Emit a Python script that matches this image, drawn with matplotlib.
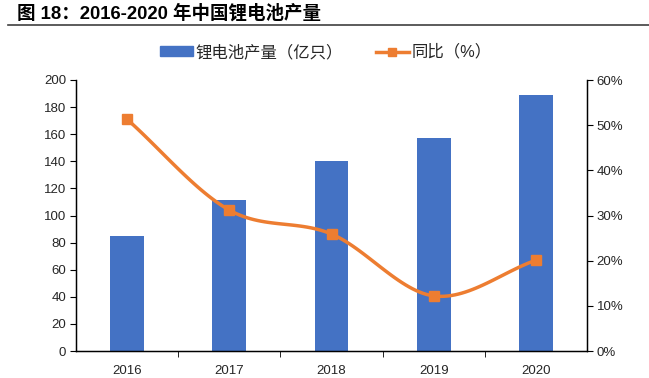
import numpy as np
import matplotlib
matplotlib.use("Agg")
import matplotlib.pyplot as plt
from matplotlib.lines import Line2D
from matplotlib.patches import Patch

plt.rcParams['font.family'] = ['Liberation Sans', 'Noto Sans CJK SC', 'DejaVu Sans']

years = ['2016', '2017', '2018', '2019', '2020']
output = [85.1, 111.4, 140.0, 157.4, 188.7]          # 亿只
yoy = [51.3, 31.2, 25.9, 12.2, 20.1]                  # %

bar_color = '#4472C4'
line_color = '#ED7D31'
text_color = '#262626'

fig = plt.figure(figsize=(6.49, 3.78), dpi=100)
ax = fig.add_axes([76/649, 1-351/378, (587-76)/649, (351-80)/378])
x = np.arange(len(years))
ax.bar(x, output, width=0.33, color=bar_color, zorder=2)
ax.set_xlim(-0.5, len(years)-0.5)
ax.set_ylim(0, 200)
ax.set_yticks(range(0, 201, 20))
ax.set_xticks(x)
ax.set_xticklabels(years)
ax.set_xticks(np.arange(0.5, len(years)-1, 1), minor=True)
ax.tick_params(axis='x', which='major', length=0, pad=10, labelsize=9.5, colors=text_color)
ax.tick_params(axis='x', which='minor', length=4, direction='out', color='black')
ax.tick_params(axis='y', length=4, direction='out', labelsize=9.5, colors=text_color, pad=3)
ax.tick_params(axis='y', color='black')
ax.spines['top'].set_visible(False)
for s in ['left', 'bottom', 'right']:
    ax.spines[s].set_color('black')
    ax.spines[s].set_linewidth(1.0)

ax2 = ax.twinx()
ax2.set_ylim(0, 60)
ax2.set_yticks(range(0, 61, 10))
ax2.set_yticklabels([f'{v}%' for v in range(0, 61, 10)])
ax2.tick_params(axis='y', length=4, direction='out', labelsize=9.5, colors=text_color, color='black', pad=3)
ax2.spines['top'].set_visible(False)
ax2.spines['right'].set_color('black')

# smooth curve (Catmull-Rom, like Excel smoothed line) through the data points
def catmull(xs, ys, n=30):
    px = np.concatenate([[2*xs[0]-xs[1]], xs, [2*xs[-1]-xs[-2]]])
    py = np.concatenate([[2*ys[0]-ys[1]], ys, [2*ys[-1]-ys[-2]]])
    outx, outy = [], []
    for i in range(1, len(px)-2):
        t = np.linspace(0, 1, n)
        p0, p1, p2, p3 = [np.array([px[j], py[j]]) for j in range(i-1, i+3)]
        for tt in t:
            pt = 0.5*((2*p1) + (-p0+p2)*tt + (2*p0-5*p1+4*p2-p3)*tt**2 + (-p0+3*p1-3*p2+p3)*tt**3)
            outx.append(pt[0]); outy.append(pt[1])
    return np.array(outx), np.array(outy)

sx, sy = catmull(x.astype(float), np.array(yoy, float))
ax2.plot(sx, sy, color=line_color, lw=2.5, zorder=3, solid_capstyle='round')
ax2.plot(x, yoy, ls='none', marker='s', ms=7, color=line_color, zorder=4)

# title and rule
fig.text(17/649, 1-13/378, '图 18：2016-2020 年中国锂电池产量', fontsize=13.3, fontweight='bold',
         va='center', ha='left', color='black')
fig.add_artist(Line2D([8/649, 1.0], [1-25/378, 1-25/378], color='#404040', lw=1.2))

handles = [Patch(color=bar_color), Line2D([0], [0], color=line_color, lw=2.5, marker='s', ms=6)]
labels = ['锂电池产量（亿只）', '同比（%）']
fig.legend(handles, labels, loc='center', bbox_to_anchor=(326/649, 1-52/378), ncol=2,
           frameon=False, fontsize=11.8, handlelength=2.0, handleheight=0.55, handletextpad=0.2,
           columnspacing=2.0, labelcolor=text_color)

fig.savefig('out.png', dpi=100)
